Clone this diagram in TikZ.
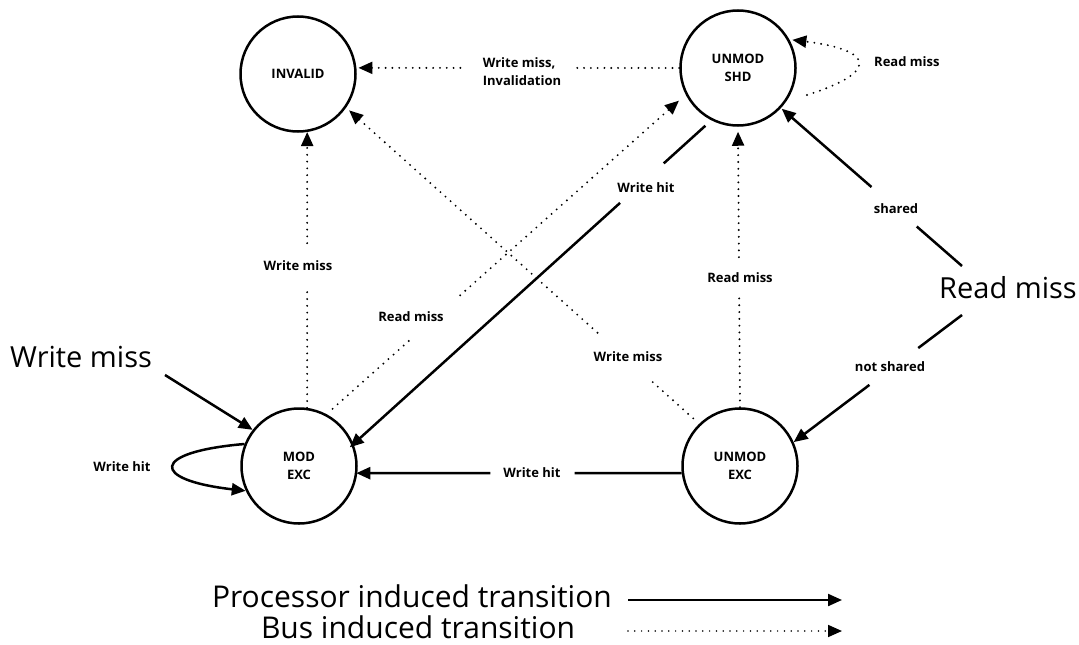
\documentclass[tikz,border=0pt]{standalone}
\usepackage{fontspec}
\setmainfont{Open Sans}
\usetikzlibrary{arrows.meta,calc}
\newcommand{\statefont}{\bfseries\fontsize{13}{18}\selectfont}
\newcommand{\edgefont}{\bfseries\fontsize{13}{18}\selectfont}
\newcommand{\largefont}{\fontsize{29}{34}\selectfont}
\newcommand{\keyfont}{\fontsize{30}{34}\selectfont}
\begin{document}
\begin{tikzpicture}[x=1pt,y=-1pt,
  state/.style={circle,draw,line width=2.5pt,minimum size=115pt,inner sep=0pt,align=center,font=\statefont},
  proc/.style={line width=2.5pt},
  bus/.style={line width=2.1pt,line cap=round,dash pattern=on 0pt off 6.8pt},
  tip/.style={-{Triangle[length=14pt,width=12pt]}},
  elabel/.style={font=\edgefont,align=left,inner sep=0pt},
  biglabel/.style={font=\largefont,inner sep=0pt},
  keylabel/.style={font=\keyfont,inner sep=0pt}]
\useasboundingbox (0,0) rectangle (1079,645);

% cache states
\node[state] (inv) at (298,74)  {INVALID};
\node[state] (shd) at (738,68)  {UNMOD\\SHD};
\node[state] (mod) at (299,466) {MOD\\EXC};
\node[state] (uex) at (740,466) {UNMOD\\EXC};

% UNMOD SHD -> INVALID (bus)
\coordinate (a1) at ($(shd.180)!0.316!(inv.6)$);
\coordinate (a2) at ($(shd.180)!0.678!(inv.6)$);
\draw[bus] (shd.180) -- (a1);
\draw[bus,tip,shorten >=2pt] (a2) -- (inv.6);
\node[elabel] at (522,72) {Write miss,\\Invalidation};

% UNMOD SHD self loop (bus)
\coordinate (loopS) at (807,95);
\draw[bus,tip,shorten >=3pt] (loopS) .. controls (880,72) and (874,50) .. (shd.29);
\node[elabel,anchor=west] at (874,62) {Read miss};

% read miss from the processor, split on sharing
\coordinate (rmS) at (962,266);
\coordinate (rmN) at (962,315);
\node[biglabel,anchor=base east] (rm) at (1077,298) {Read miss};
\coordinate (c1) at ($(rmS)!0.25!(shd.-43)$);
\coordinate (c2) at ($(rmS)!0.50!(shd.-43)$);
\draw[proc] (rmS) -- (c1);
\draw[proc,tip,shorten >=1pt] (c2) -- (shd.-43);
\node[elabel] at (896,209) {shared};
\coordinate (d1) at ($(rmN)!0.26!(uex.24)$);
\coordinate (d2) at ($(rmN)!0.55!(uex.24)$);
\draw[proc] (rmN) -- (d1);
\draw[proc,tip] (d2) -- (uex.24);
\node[elabel] at (890,367) {not shared};

% UNMOD EXC -> UNMOD SHD (bus)
\coordinate (e1) at ($(uex.north)!0.39!(shd.south)$);
\coordinate (e2) at ($(uex.north)!0.535!(shd.south)$);
\draw[bus] (uex.north) -- (e1);
\draw[bus,tip,shorten >=5pt] (e2) -- (shd.south);
\node[elabel] at (740,278) {Read miss};

% UNMOD EXC -> INVALID (bus)
\coordinate (f1) at ($(uex.134)!0.141!(inv.-35)$);
\coordinate (f2) at ($(uex.134)!0.288!(inv.-35)$);
\draw[bus,shorten <=8pt] (uex.134) -- (f1);
\draw[bus,tip,shorten >=4pt] (f2) -- (inv.-35);
\node[elabel] at (628,357) {Write miss};

% MOD EXC -> UNMOD SHD (bus)
\coordinate (g1) at ($(mod.62)!0.233!(shd.207)$);
\coordinate (g2) at ($(mod.62)!0.372!(shd.207)$);
\draw[bus,shorten <=8pt] (mod.62) -- (g1);
\draw[bus,tip,shorten >=9pt] (g2) -- (shd.207);
\node[elabel] at (411,317) {Read miss};

% UNMOD SHD -> MOD EXC (processor)
\coordinate (h1) at ($(shd.243)!0.133!(mod.22)$);
\coordinate (h2) at ($(shd.243)!0.255!(mod.22)$);
\draw[proc,shorten <=8pt] (shd.243) -- (h1);
\draw[proc,tip,shorten >=-5pt] (h2) -- (mod.22);
\node[elabel] at (646,188) {Write hit};

% MOD EXC -> INVALID (bus)
\coordinate (i1) at ($(mod.82)!0.438!(inv.-81)$);
\coordinate (i2) at ($(mod.82)!0.597!(inv.-81)$);
\draw[bus] (mod.82) -- (i1);
\draw[bus,tip] (i2) -- (inv.-81);
\node[elabel] at (298,266) {Write miss};

% UNMOD EXC -> MOD EXC (processor)
\coordinate (j1) at ($(uex.187)!0.33!(mod.-7)$);
\coordinate (j2) at ($(uex.187)!0.59!(mod.-7)$);
\draw[proc] (uex.187) -- (j1);
\draw[proc,tip,shorten >=-1pt] (j2) -- (mod.-7);
\node[elabel] at (532,473) {Write hit};

% processor write miss into MOD EXC
\node[biglabel,anchor=base west] (wm) at (10,367) {Write miss};
\coordinate (wmS) at (165,375);
\draw[proc,tip] (wmS) -- (mod.142);

% MOD EXC self loop (processor)
\draw[proc,tip] (mod.158) .. controls (150,452) and (150,480) .. (mod.205);
\node[elabel] at (122,467) {Write hit};

% legend
\node[keylabel,anchor=base east] (ptxt) at (612,607) {Processor induced transition};
\node[keylabel,anchor=base] (btxt) at (418,638) {Bus induced transition};
\coordinate (pl1) at (628,600);
\coordinate (pl2) at (842,600);
\coordinate (bl1) at (628,631);
\coordinate (bl2) at (842,631);
\draw[proc,line width=2.2pt,tip] (pl1) -- (pl2);
\draw[bus,line width=1.7pt,tip] (bl1) -- (bl2);
\end{tikzpicture}
\end{document}
